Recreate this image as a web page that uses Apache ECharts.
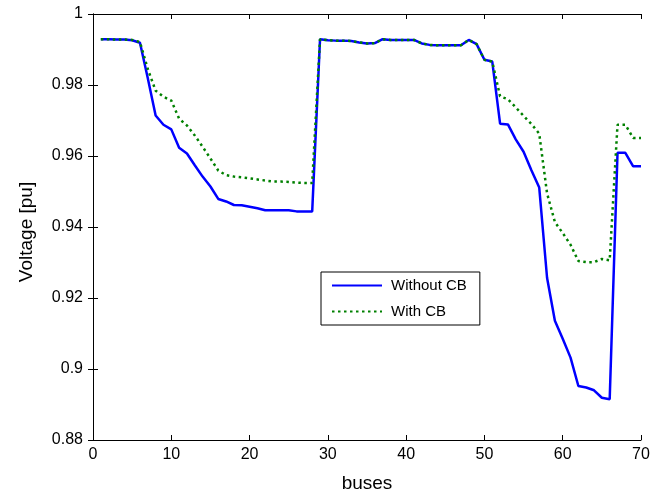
<!DOCTYPE html>
<html>
<head>
<meta charset="utf-8">
<script src="https://cdn.jsdelivr.net/npm/echarts@6/dist/echarts.min.js"></script>
<style>html,body{margin:0;padding:0;background:#fff}#c{width:664px;height:498px}</style>
</head>
<body>
<div id="c"></div>
<script>
const buses = Array.from({length: 70}, (_, i) => i + 1);
const withoutCB = [
  0.9929, 0.9929, 0.9928, 0.9928, 0.9926, 0.9919, 0.9819, 0.9714, 0.9688, 0.9675,
  0.9623, 0.9607, 0.9574, 0.9542, 0.9514, 0.9479, 0.9472, 0.9462, 0.9461, 0.9457,
  0.9453, 0.9447, 0.9447, 0.9447, 0.9447, 0.9444, 0.9444, 0.9444, 0.9929, 0.9926,
  0.9925, 0.9925, 0.9924, 0.9920, 0.9917, 0.9918, 0.9929, 0.9927, 0.9927, 0.9927,
  0.9927, 0.9917, 0.9913, 0.9912, 0.9912, 0.9912, 0.9912, 0.9927, 0.9915, 0.9871,
  0.9866, 0.9691, 0.9689, 0.9647, 0.9612, 0.9560, 0.9511, 0.9257, 0.9136, 0.9085,
  0.9032, 0.8952, 0.8948, 0.8940, 0.8919, 0.8915, 0.9609, 0.9609, 0.9571, 0.9571
];
const withCB = [
  0.9929, 0.9929, 0.9928, 0.9928, 0.9927, 0.9921, 0.9845, 0.9784, 0.9767, 0.9756,
  0.9705, 0.9686, 0.9658, 0.9626, 0.9593, 0.9559, 0.9546, 0.9542, 0.9540, 0.9537,
  0.9534, 0.9531, 0.9528, 0.9528, 0.9527, 0.9525, 0.9524, 0.9524, 0.9929, 0.9926,
  0.9925, 0.9925, 0.9924, 0.9920, 0.9917, 0.9918, 0.9929, 0.9927, 0.9927, 0.9927,
  0.9927, 0.9917, 0.9913, 0.9912, 0.9912, 0.9912, 0.9912, 0.9927, 0.9915, 0.9871,
  0.9866, 0.9768, 0.9760, 0.9737, 0.9713, 0.9690, 0.9663, 0.9495, 0.9414, 0.9383,
  0.9350, 0.9304, 0.9301, 0.9301, 0.9310, 0.9306, 0.9688, 0.9688, 0.9651, 0.9651
];
const seriesNames = ['Without CB', 'With CB'];
const xName = 'buses';
const yName = 'Voltage [pu]';

const font = 'Liberation Sans, Arial, Helvetica, sans-serif';
const chart = echarts.init(document.getElementById('c'), null, {renderer: 'canvas'});
const axisLine = {show: true, lineStyle: {color: '#000', width: 1}};
const tickIn = {show: true, inside: true, length: 5, lineStyle: {color: '#000', width: 1}};
const fmt = v => String(+(+v).toFixed(2));

chart.setOption({
  animation: false,
  backgroundColor: '#fff',
  grid: {left: 93, right: 23, top: 14, bottom: 55, containLabel: false},
  legend: {
    orient: 'vertical', left: 321, top: 272,
    itemWidth: 50, itemHeight: 14, itemGap: 11,
    padding: [6, 13, 6, 10],
    borderColor: '#000', borderWidth: 1, backgroundColor: '#fff',
    itemStyle: {opacity: 0},
    textStyle: {fontSize: 15, color: '#000', fontFamily: font, padding: [0, 0, 0, 4]},
    data: seriesNames
  },
  xAxis: [
    {type: 'value', min: 0, max: 70, interval: 10, position: 'bottom',
     name: xName, nameLocation: 'middle', nameGap: 34,
     nameTextStyle: {fontSize: 19, color: '#000', fontFamily: font},
     axisLine, axisTick: tickIn,
     axisLabel: {fontSize: 16, color: '#000', fontFamily: font, margin: 7},
     splitLine: {show: false}},
    {type: 'value', min: 0, max: 70, interval: 10, position: 'top',
     axisLine, axisTick: tickIn, axisLabel: {show: false}, splitLine: {show: false}}
  ],
  yAxis: [
    {type: 'value', min: 0.88, max: 1, interval: 0.02, position: 'left',
     name: yName, nameLocation: 'middle', nameGap: 57,
     nameTextStyle: {fontSize: 19, color: '#000', fontFamily: font, padding: [0, 10, 0, 0]},
     axisLine, axisTick: tickIn,
     axisLabel: {fontSize: 16, color: '#000', fontFamily: font, margin: 10, formatter: fmt},
     splitLine: {show: false}},
    {type: 'value', min: 0.88, max: 1, interval: 0.02, position: 'right',
     axisLine, axisTick: tickIn, axisLabel: {show: false}, splitLine: {show: false}}
  ],
  series: [
    {name: seriesNames[0], type: 'line', symbol: 'none', xAxisIndex: 0, yAxisIndex: 0,
     data: buses.map((b, i) => [b, withoutCB[i]]),
     lineStyle: {color: '#0000ff', width: 2.5}, itemStyle: {color: '#0000ff'}},
    {name: seriesNames[1], type: 'line', symbol: 'none', xAxisIndex: 0, yAxisIndex: 0,
     data: buses.map((b, i) => [b, withCB[i]]),
     lineStyle: {color: '#008000', width: 2.5, type: [2.5, 3.5]}, itemStyle: {color: '#008000'}}
  ]
});
</script>
</body>
</html>
